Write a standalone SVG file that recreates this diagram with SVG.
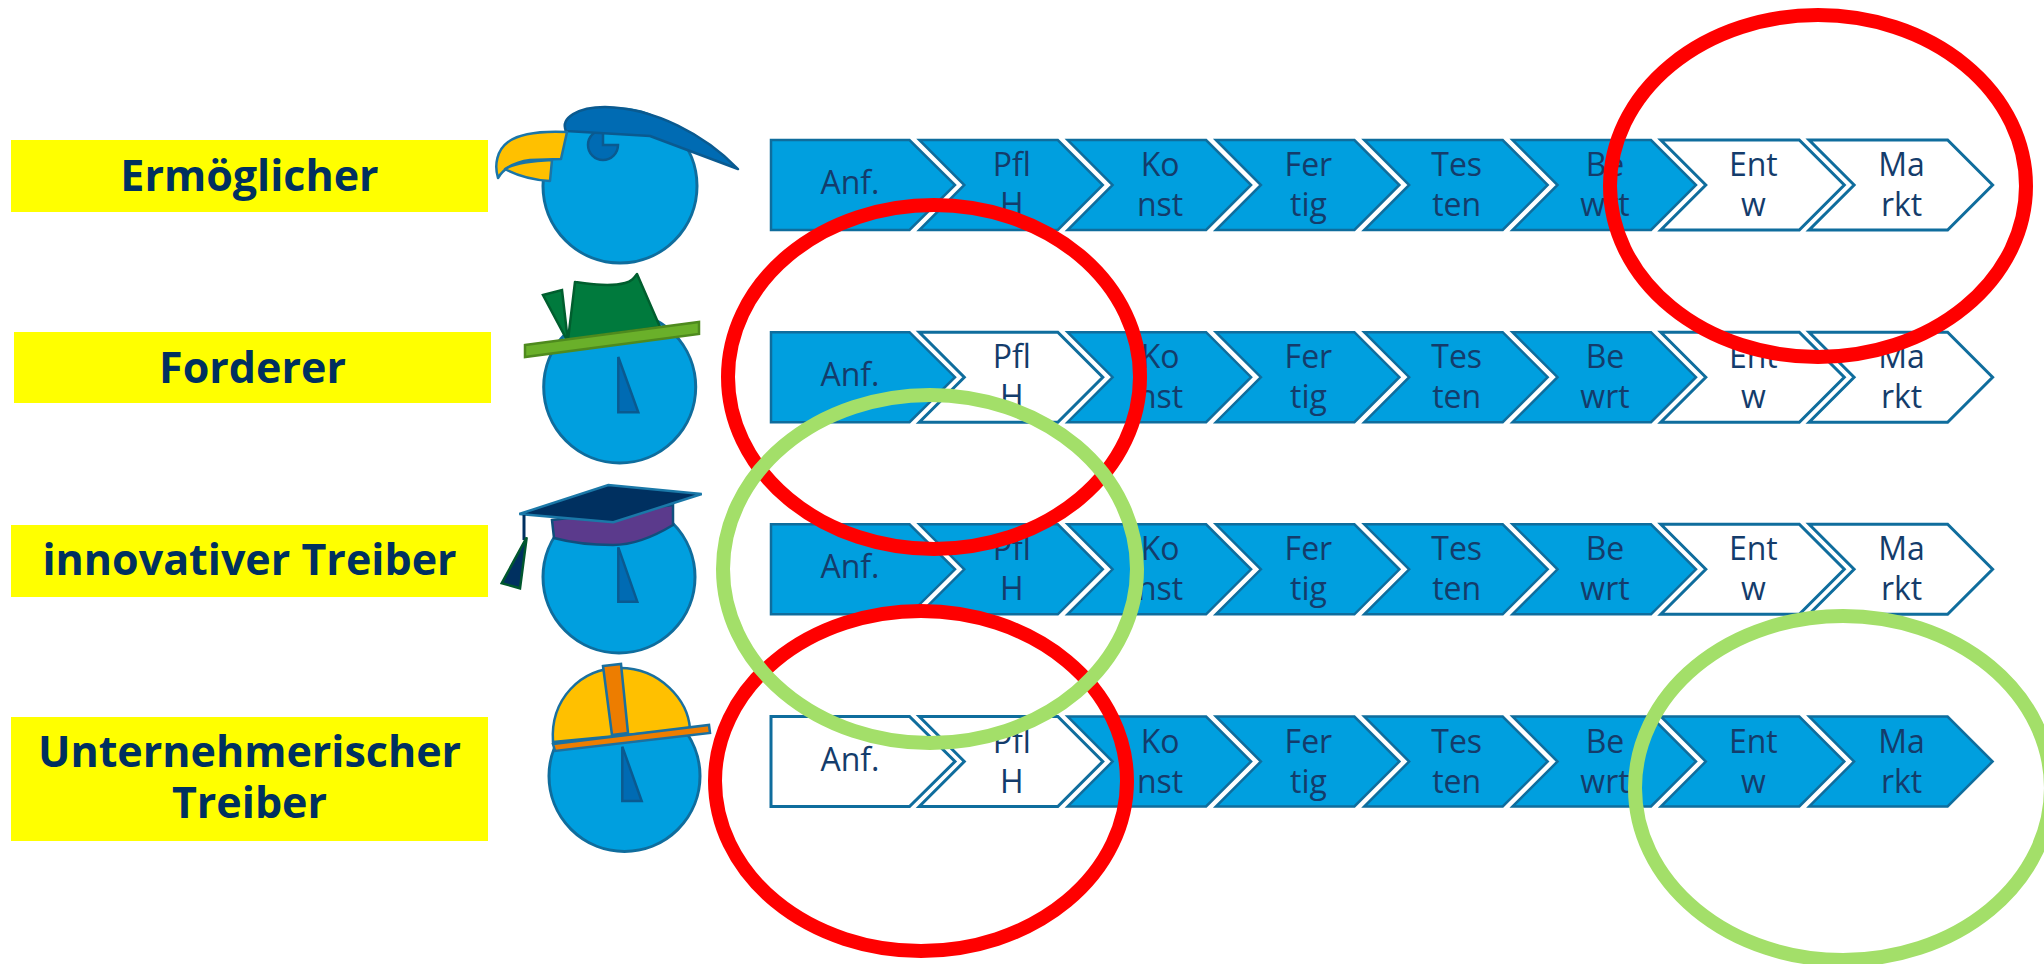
<svg xmlns="http://www.w3.org/2000/svg" width="2044" height="964" viewBox="0 0 2044 964">
  <style>
    .lbl { fill: #ffff00; }
    .lbltxt { font-family: "Open Sans", "Liberation Sans", sans-serif; font-weight: 700; font-size: 43px; fill: #00305f; text-anchor: middle; }
    .chev { stroke: #0f6d9d; stroke-width: 2.5; stroke-linejoin: miter; }
    .on { fill: #009fdf; }
    .off { fill: #ffffff; stroke-width: 3; }
    .ctxt { font-family: "Open Sans", "Liberation Sans", sans-serif; font-size: 32px; fill: #143c6b; text-anchor: middle; }
    .head { fill: #009fdf; stroke: #0f6d9d; stroke-width: 3; }
    .nose { fill: #006bb3; stroke: #0a5a90; stroke-width: 2.5; stroke-linejoin: miter; }
    .ring { fill: none; stroke-width: 14; }
    .red { stroke: #ff0000; }
    .green { stroke: #a3df69; }
  </style>
  <defs>
    <!-- first step: pentagon without notch -->
    <path id="chevFirst" d="M0,0H138.5L184,45L138.5,90H0Z"/>
    <!-- following steps: notched chevron -->
    <path id="chev" d="M0,0H138.5L183.5,45L138.5,90H0L45,45Z"/>
  </defs>

  <!-- role labels -->
  <g id="label-ermoeglicher">
    <rect class="lbl" x="11" y="140" width="477" height="72"/>
    <text class="lbltxt" x="249.5" y="191">Ermöglicher</text>
  </g>
  <g id="label-forderer">
    <rect class="lbl" x="14" y="332" width="477" height="71"/>
    <text class="lbltxt" x="252.5" y="383">Forderer</text>
  </g>
  <g id="label-innovativer-treiber">
    <rect class="lbl" x="11" y="525" width="477" height="72"/>
    <text class="lbltxt" x="249.5" y="575">innovativer Treiber</text>
  </g>
  <g id="label-unternehmerischer-treiber">
    <rect class="lbl" x="11" y="717" width="477" height="124"/>
    <text class="lbltxt"><tspan x="249.5" y="767">Unternehmerischer</tspan><tspan x="249.5" y="818">Treiber</tspan></text>
  </g>

  <!-- figures -->
  <g id="figure-ermoeglicher">
    <circle class="head" cx="620" cy="186" r="77"/>
    <path d="M603,145 L618,145 A15,15 0 1 1 603,130 Z" fill="#006bb3" stroke="#0a5a90" stroke-width="2.5"/>
    <path d="M566,131 C560,118 578,107 605,107 C655,108 705,135 738,169 L650,136 Z" fill="#006bb3" stroke="#0a5a90" stroke-width="2.5" stroke-linejoin="round"/>
    <path d="M567,132 C545,131 520,133 508,142 C497,150 494,165 498,178 C504,168 515,162 530,160 L561,159 Z" fill="#ffc000" stroke="#1a75a8" stroke-width="2.5" stroke-linejoin="round"/>
    <path d="M505,169 C515,163 530,161 552,160 L550,181 C535,180 518,176 505,169 Z" fill="#ffc000" stroke="#1a75a8" stroke-width="2.5" stroke-linejoin="round"/>
  </g>
  <g id="figure-forderer">
    <circle class="head" cx="619.7" cy="387" r="76"/>
    <path class="nose" d="M618.3,357 L618.3,412.3 L638.3,412.3 Z"/>
    <path d="M543,295 L562,290 L568,342 Z" fill="#007a3d" stroke="#005e2e" stroke-width="2.5"/>
    <path d="M575,282 C590,284 610,287 625,283 C632,281 634,278 637,274 L660,327 L568,340 Z" fill="#007a3d" stroke="#005e2e" stroke-width="2.5" stroke-linejoin="round"/>
    <path d="M525,345 L699,322 L699,334 L525,357 Z" fill="#6ab02a" stroke="#4e8a1e" stroke-width="2.5"/>
  </g>
  <g id="figure-innovativer-treiber">
    <circle class="head" cx="619" cy="577" r="76"/>
    <path class="nose" d="M618.3,547.3 L618.3,601.7 L637.3,601.7 Z"/>
    <path d="M552,520 L673,505 L673,525 Q640,545 613,545 Q580,545 554,538 Z" fill="#5b3a8c" stroke="#0f4f7d" stroke-width="2.5"/>
    <path d="M519.3,514 L608.3,485 L701.7,494 L613.3,522.3 Z" fill="#003060" stroke="#1a78a8" stroke-width="2.5"/>
    <line x1="524" y1="515" x2="524" y2="540" stroke="#003060" stroke-width="3"/>
    <path d="M526.7,537.3 L501.7,583.3 L520,588.3 Z" fill="#003060" stroke="#00572e" stroke-width="2.5"/>
  </g>
  <g id="figure-unternehmerischer-treiber">
    <circle class="head" cx="624.5" cy="776" r="75.5"/>
    <path class="nose" d="M622.3,746.7 L622.3,801 L641.7,801 Z"/>
    <path d="M553,742 C550,700 580,668 620,668 C660,668 688,700 690,729 Z" fill="#ffc000" stroke="#1a70a0" stroke-width="2.5"/>
    <path d="M603,666 L621,664 L628,733 L612,735 Z" fill="#ed7d00" stroke="#1a70a0" stroke-width="2.5"/>
    <path d="M553,744 L709,725 L710,733 L555,751 Z" fill="#ed7d00" stroke="#1a70a0" stroke-width="2.5"/>
  </g>

  <!-- process rows -->
  <g id="process-ermoeglicher" transform="translate(0,140)">
    <use href="#chevFirst" x="771" class="chev on"/>
    <use href="#chev" x="919.3" class="chev on"/>
    <use href="#chev" x="1067.6" class="chev on"/>
    <use href="#chev" x="1215.9" class="chev on"/>
    <use href="#chev" x="1364.2" class="chev on"/>
    <use href="#chev" x="1512.5" class="chev on"/>
    <use href="#chev" x="1660.8" class="chev off"/>
    <use href="#chev" x="1809.1" class="chev off"/>
    <text class="ctxt" x="850" y="54">Anf.</text>
    <text class="ctxt"><tspan x="1011.8" y="36">Pfl</tspan><tspan x="1011.8" y="76">H</tspan></text>
    <text class="ctxt"><tspan x="1160.1" y="36">Ko</tspan><tspan x="1160.1" y="76">nst</tspan></text>
    <text class="ctxt"><tspan x="1308.4" y="36">Fer</tspan><tspan x="1308.4" y="76">tig</tspan></text>
    <text class="ctxt"><tspan x="1456.7" y="36">Tes</tspan><tspan x="1456.7" y="76">ten</tspan></text>
    <text class="ctxt"><tspan x="1605" y="36">Be</tspan><tspan x="1605" y="76">wrt</tspan></text>
    <text class="ctxt"><tspan x="1753.3" y="36">Ent</tspan><tspan x="1753.3" y="76">w</tspan></text>
    <text class="ctxt"><tspan x="1901.6" y="36">Ma</tspan><tspan x="1901.6" y="76">rkt</tspan></text>
  </g>
  <g id="process-forderer" transform="translate(0,332.2)">
    <use href="#chevFirst" x="771" class="chev on"/>
    <use href="#chev" x="919.3" class="chev off"/>
    <use href="#chev" x="1067.6" class="chev on"/>
    <use href="#chev" x="1215.9" class="chev on"/>
    <use href="#chev" x="1364.2" class="chev on"/>
    <use href="#chev" x="1512.5" class="chev on"/>
    <use href="#chev" x="1660.8" class="chev off"/>
    <use href="#chev" x="1809.1" class="chev off"/>
    <text class="ctxt" x="850" y="54">Anf.</text>
    <text class="ctxt"><tspan x="1011.8" y="36">Pfl</tspan><tspan x="1011.8" y="76">H</tspan></text>
    <text class="ctxt"><tspan x="1160.1" y="36">Ko</tspan><tspan x="1160.1" y="76">nst</tspan></text>
    <text class="ctxt"><tspan x="1308.4" y="36">Fer</tspan><tspan x="1308.4" y="76">tig</tspan></text>
    <text class="ctxt"><tspan x="1456.7" y="36">Tes</tspan><tspan x="1456.7" y="76">ten</tspan></text>
    <text class="ctxt"><tspan x="1605" y="36">Be</tspan><tspan x="1605" y="76">wrt</tspan></text>
    <text class="ctxt"><tspan x="1753.3" y="36">Ent</tspan><tspan x="1753.3" y="76">w</tspan></text>
    <text class="ctxt"><tspan x="1901.6" y="36">Ma</tspan><tspan x="1901.6" y="76">rkt</tspan></text>
  </g>
  <g id="process-innovativer-treiber" transform="translate(0,524.3)">
    <use href="#chevFirst" x="771" class="chev on"/>
    <use href="#chev" x="919.3" class="chev on"/>
    <use href="#chev" x="1067.6" class="chev on"/>
    <use href="#chev" x="1215.9" class="chev on"/>
    <use href="#chev" x="1364.2" class="chev on"/>
    <use href="#chev" x="1512.5" class="chev on"/>
    <use href="#chev" x="1660.8" class="chev off"/>
    <use href="#chev" x="1809.1" class="chev off"/>
    <text class="ctxt" x="850" y="54">Anf.</text>
    <text class="ctxt"><tspan x="1011.8" y="36">Pfl</tspan><tspan x="1011.8" y="76">H</tspan></text>
    <text class="ctxt"><tspan x="1160.1" y="36">Ko</tspan><tspan x="1160.1" y="76">nst</tspan></text>
    <text class="ctxt"><tspan x="1308.4" y="36">Fer</tspan><tspan x="1308.4" y="76">tig</tspan></text>
    <text class="ctxt"><tspan x="1456.7" y="36">Tes</tspan><tspan x="1456.7" y="76">ten</tspan></text>
    <text class="ctxt"><tspan x="1605" y="36">Be</tspan><tspan x="1605" y="76">wrt</tspan></text>
    <text class="ctxt"><tspan x="1753.3" y="36">Ent</tspan><tspan x="1753.3" y="76">w</tspan></text>
    <text class="ctxt"><tspan x="1901.6" y="36">Ma</tspan><tspan x="1901.6" y="76">rkt</tspan></text>
  </g>
  <g id="process-unternehmerischer-treiber" transform="translate(0,716.5)">
    <use href="#chevFirst" x="771" class="chev off"/>
    <use href="#chev" x="919.3" class="chev off"/>
    <use href="#chev" x="1067.6" class="chev on"/>
    <use href="#chev" x="1215.9" class="chev on"/>
    <use href="#chev" x="1364.2" class="chev on"/>
    <use href="#chev" x="1512.5" class="chev on"/>
    <use href="#chev" x="1660.8" class="chev on"/>
    <use href="#chev" x="1809.1" class="chev on"/>
    <text class="ctxt" x="850" y="54">Anf.</text>
    <text class="ctxt"><tspan x="1011.8" y="36">Pfl</tspan><tspan x="1011.8" y="76">H</tspan></text>
    <text class="ctxt"><tspan x="1160.1" y="36">Ko</tspan><tspan x="1160.1" y="76">nst</tspan></text>
    <text class="ctxt"><tspan x="1308.4" y="36">Fer</tspan><tspan x="1308.4" y="76">tig</tspan></text>
    <text class="ctxt"><tspan x="1456.7" y="36">Tes</tspan><tspan x="1456.7" y="76">ten</tspan></text>
    <text class="ctxt"><tspan x="1605" y="36">Be</tspan><tspan x="1605" y="76">wrt</tspan></text>
    <text class="ctxt"><tspan x="1753.3" y="36">Ent</tspan><tspan x="1753.3" y="76">w</tspan></text>
    <text class="ctxt"><tspan x="1901.6" y="36">Ma</tspan><tspan x="1901.6" y="76">rkt</tspan></text>
  </g>

  <!-- highlight rings -->
  <g id="highlights">
    <ellipse class="ring red" cx="1818" cy="186" rx="208" ry="171"/>
    <ellipse class="ring red" cx="934" cy="377" rx="206" ry="172"/>
    <ellipse class="ring red" cx="921" cy="781" rx="206" ry="170"/>
    <ellipse class="ring green" cx="930" cy="569" rx="207" ry="174"/>
    <ellipse class="ring green" cx="1843" cy="788" rx="208" ry="172"/>
  </g>
</svg>
